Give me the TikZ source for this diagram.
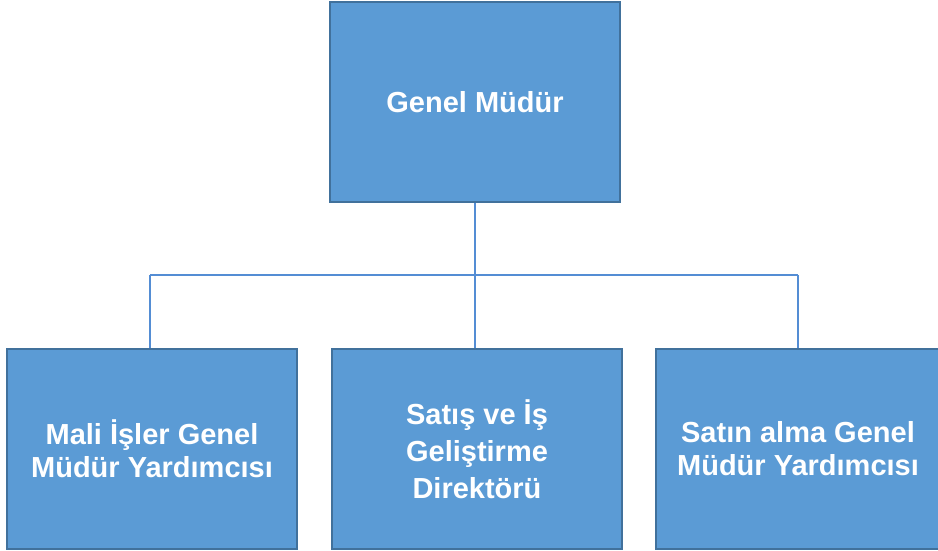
\documentclass[tikz,border=0pt]{standalone}
\usepackage{fontspec}
\setmainfont{Liberation Sans}
\definecolor{boxfill}{RGB}{91,155,213}
\definecolor{boxline}{RGB}{65,113,156}
\definecolor{linkcol}{RGB}{84,141,212}
\begin{document}
\begin{tikzpicture}[x=1pt,y=-1pt,
  orgbox/.style={rectangle, fill=boxfill, draw=boxline, line width=2pt,
    minimum height=200pt, text=white, align=center,
    font=\fontsize{29}{33}\selectfont\bfseries, inner sep=0pt},
  link/.style={draw=linkcol, line width=1.5pt}]
\useasboundingbox (0,0) rectangle (938,551);
\node[orgbox, minimum width=290pt] (top) at (475,102) {Genel Müdür};
\node[orgbox, minimum width=290pt] (left) at (152,449) {Mali İşler Genel\\Müdür Yardımcısı};
\node[orgbox, minimum width=290pt, font=\fontsize{29}{37}\selectfont\bfseries] (mid) at (477,449) {Satış ve İş\\Geliştirme\\Direktörü};
\node[orgbox, minimum width=284pt] (right) at (798,449) {Satın alma Genel\\Müdür Yardımcısı};
\coordinate (bus) at (475,275);
\coordinate (busl) at (150,275);
\coordinate (busr) at (798,275);
\draw[link] (top.south) -- (bus);
\draw[link] (busl) -- (busr);
\draw[link] (busl) -- (busl |- left.north);
\draw[link] (bus) -- (bus |- mid.north);
\draw[link] (busr) -- (busr |- right.north);
\end{tikzpicture}
\end{document}
